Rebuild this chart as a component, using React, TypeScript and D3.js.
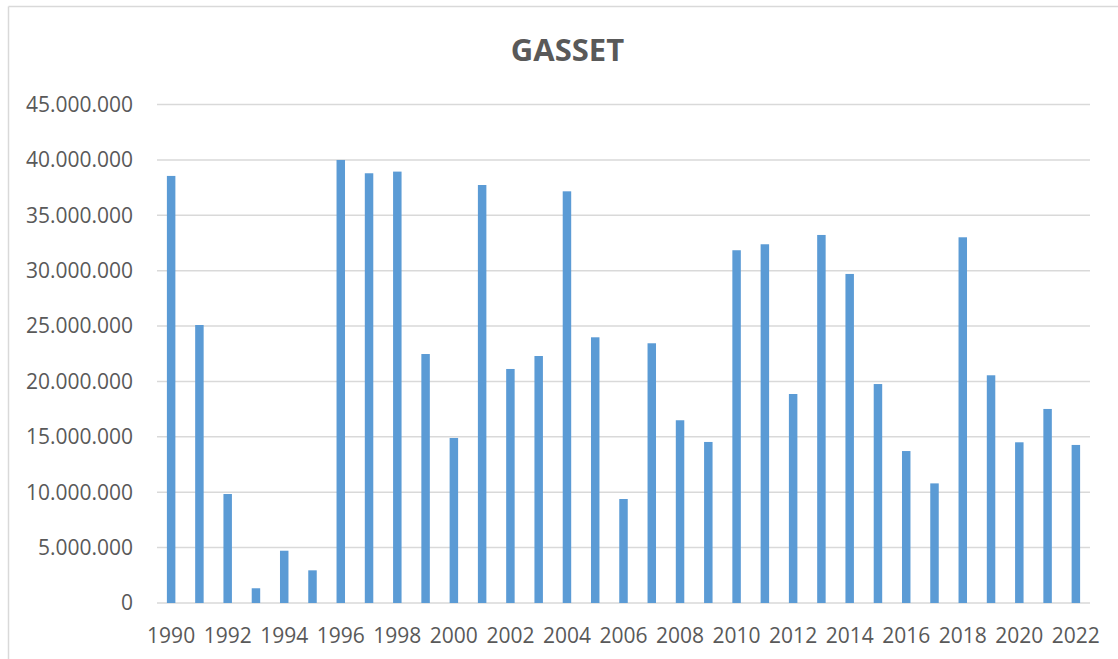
import * as d3 from "d3";

const years = d3.range(1990, 2023).map(String);
const values = [
  38560000, 25100000, 9840000, 1330000, 4720000, 2950000, 40000000, 38800000,
  38950000, 22480000, 14900000, 37740000, 21130000, 22300000, 37170000,
  23990000, 9390000, 23450000, 16500000, 14540000, 31850000, 32390000,
  18870000, 33230000, 29710000, 19770000, 13720000, 10800000, 33020000,
  20560000, 14510000, 17520000, 14270000,
];
const yTicks = d3.range(0, 45000001, 5000000);
const title = "GASSET";

const width = 1118;
const height = 659;
const margin = { top: 104.6, right: 28, bottom: 56, left: 157 };

const fmt = (v: number) =>
  v === 0 ? "0" : d3.format(",")(v).replace(/,/g, ".");

export default function App() {
  const x = d3
    .scaleBand()
    .domain(years)
    .range([margin.left, width - margin.right])
    .paddingInner(0.7)
    .paddingOuter(0.35);
  const y = d3
    .scaleLinear()
    .domain([0, 45000000])
    .range([height - margin.bottom, margin.top]);

  const font = "'Open Sans', 'Liberation Sans', sans-serif";

  return (
    <svg
      width={width}
      height={height}
      style={{ position: "absolute", left: 0, top: 0, background: "#fff" }}
    >
      {/* chart frame (cropped) */}
      <line x1={8.5} x2={8.5} y1={6.5} y2={height} stroke="#d9d9d9" strokeWidth={1.5} />
      <line x1={8.5} x2={width} y1={6.5} y2={6.5} stroke="#d9d9d9" strokeWidth={1.5} />

      <text
        x={567.5}
        y={61}
        textAnchor="middle"
        fontFamily={font}
        fontWeight="bold"
        fontSize={31}
        fill="#595959"
      >
        {title}
      </text>

      {/* gridlines + y labels */}
      {yTicks.map((t) => (
        <g key={t}>
          <line
            x1={margin.left}
            x2={width - margin.right}
            y1={y(t)}
            y2={y(t)}
            stroke="#d9d9d9"
            strokeWidth={1.5}
          />
          <text
            x={133}
            y={y(t)}
            dy="0.35em"
            textAnchor="end"
            fontFamily={font}
            fontSize={21}
            fill="#595959"
          >
            {fmt(t)}
          </text>
        </g>
      ))}

      {/* bars */}
      {values.map((v, i) => (
        <rect
          key={years[i]}
          x={x(years[i])}
          y={y(v)}
          width={x.bandwidth()}
          height={y(0) - y(v)}
          fill="#5b9bd5"
        />
      ))}

      {/* x labels, every other year */}
      {years
        .filter((_, i) => i % 2 === 0)
        .map((yr) => (
          <text
            key={yr}
            x={(x(yr) as number) + x.bandwidth() / 2}
            y={643}
            textAnchor="middle"
            fontFamily={font}
            fontSize={21}
            fill="#595959"
          >
            {yr}
          </text>
        ))}
    </svg>
  );
}
